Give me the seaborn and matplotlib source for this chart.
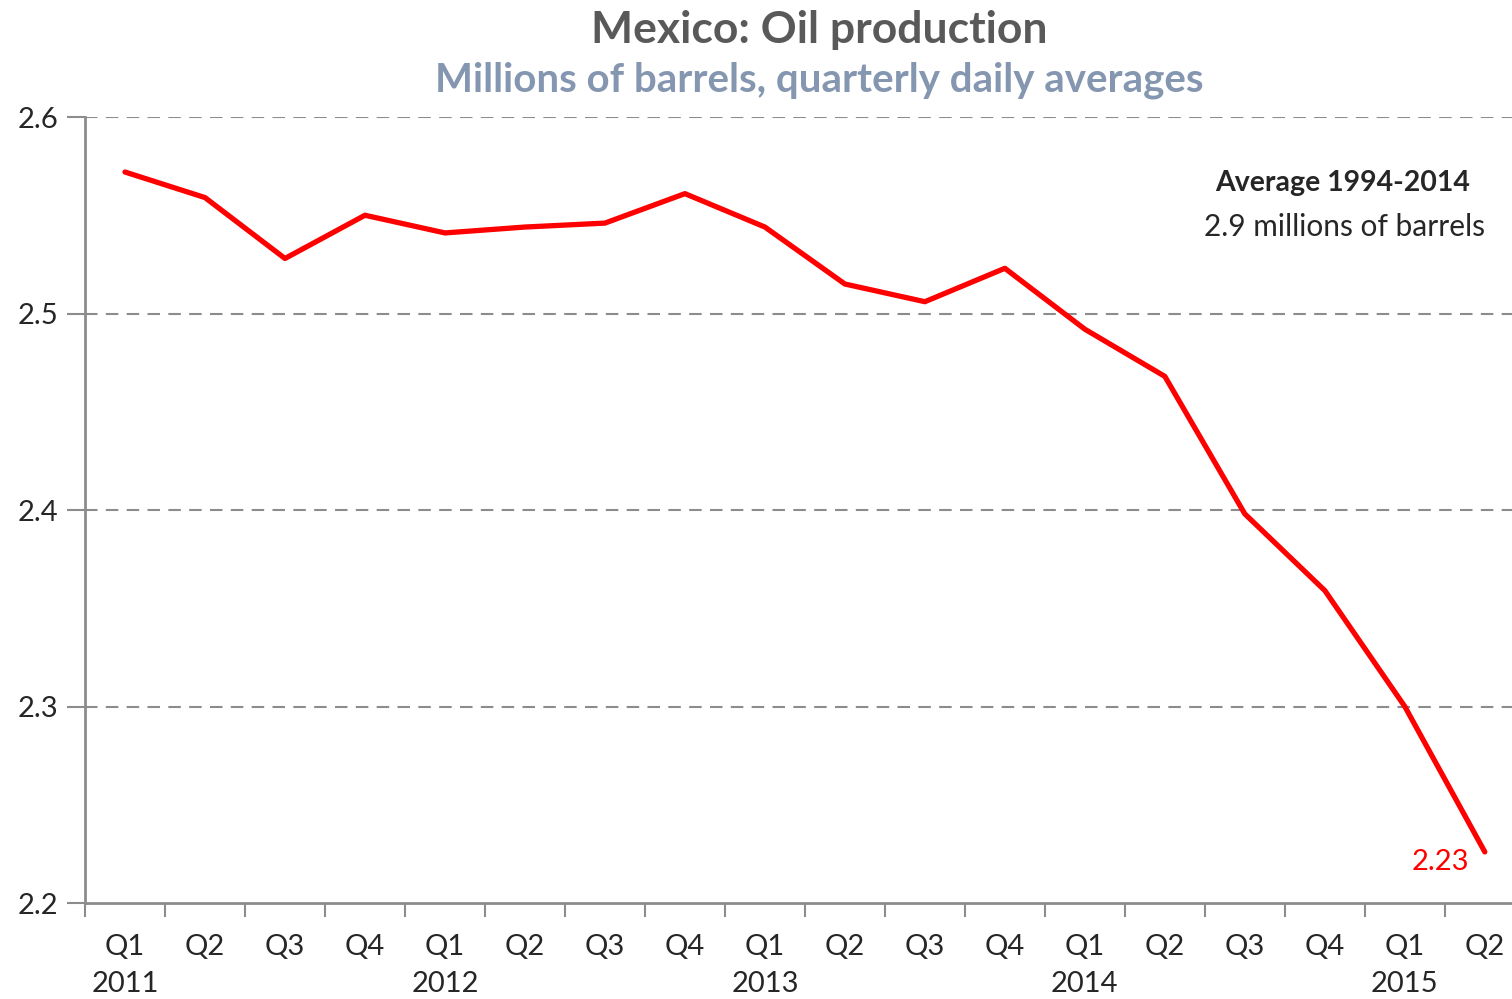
import matplotlib
matplotlib.use("Agg")
import matplotlib.pyplot as plt
import seaborn as sns
import pandas as pd
import numpy as np

# Quarterly daily averages, millions of barrels
quarters = ["Q1", "Q2", "Q3", "Q4"] * 4 + ["Q1", "Q2"]
years = ["2011", "", "", "", "2012", "", "", "", "2013", "", "", "",
         "2014", "", "", "", "2015", ""]
production = [2.572, 2.559, 2.528, 2.550, 2.541, 2.544, 2.546, 2.561,
              2.544, 2.515, 2.506, 2.523, 2.492, 2.468, 2.398, 2.359,
              2.300, 2.226]
yticks = [2.2, 2.3, 2.4, 2.5, 2.6]

df = pd.DataFrame({"idx": np.arange(len(production)), "value": production})

sns.set_style("white")
plt.rcParams['font.family'] = ['Lato', 'DejaVu Sans']

fig = plt.figure(figsize=(15.12, 9.99), dpi=100)
ax = fig.add_axes([85 / 1512, 1 - 903 / 999, 1 - 85 / 1512, (903 - 117) / 999])

grey = "#8c8c8c"

for y in yticks[1:]:
    ax.axhline(y, color=grey, lw=1.5, ls=(0, (6, 4)), zorder=1)

sns.lineplot(data=df, x="idx", y="value", color="#ff0000", lw=3.8, ax=ax,
             zorder=3, solid_capstyle="round")

ax.set_yticks(yticks)
ax.set_yticklabels([f"{v:.1f}" for v in yticks], fontsize=21)
ax.set_xticks(df["idx"])
ax.set_xticklabels([f"{q}\n{y}" if y else q for q, y in zip(quarters, years)],
                   fontsize=21, va="top")
for lab in ax.get_xticklabels():
    lab.set_linespacing(1.55)
ax.set_xticks(np.arange(-0.5, 18, 1), minor=True)
# limits after ticks, otherwise the minor ticks widen the view
ax.set_xlim(-0.5, 17.34)
ax.set_ylim(2.2, 2.6)
ax.tick_params(axis="x", which="major", bottom=True, length=0, pad=22)
ax.tick_params(axis="x", which="minor", bottom=True, length=10, width=1.5,
               color=grey, direction="out")
ax.tick_params(axis="y", which="major", left=True, length=13, width=1.5,
               color=grey, direction="out", pad=6)
ax.set_xlabel("")
ax.set_ylabel("")

for s in ["top", "right"]:
    ax.spines[s].set_visible(False)
for s in ["left", "bottom"]:
    ax.spines[s].set_color(grey)
    ax.spines[s].set_linewidth(2)
ax.spines["left"].set_zorder(2)

ax.text(df["idx"].iloc[-1] - 0.55, production[-1] - 0.005, "2.23",
        color="#ff0000", fontsize=21, ha="center", va="center")

ax.text(1343 / 1512, 1 - 183 / 999, "Average 1994-2014", transform=fig.transFigure,
        fontsize=20.5, fontweight="bold", ha="center", va="center")
ax.text(1344 / 1512, 1 - 227 / 999, "2.9 millions of barrels",
        transform=fig.transFigure, fontsize=21.5, ha="center", va="center")

fig.text(819 / 1512, 1 - 30 / 999, "Mexico: Oil production", fontsize=32,
         fontweight="bold", color="#595959", ha="center", va="center")
fig.text(819 / 1512, 1 - 80 / 999, "Millions of barrels, quarterly daily averages",
         fontsize=29, fontweight="bold", color="#8496b0", ha="center", va="center")

fig.savefig("out.png", dpi=100)
